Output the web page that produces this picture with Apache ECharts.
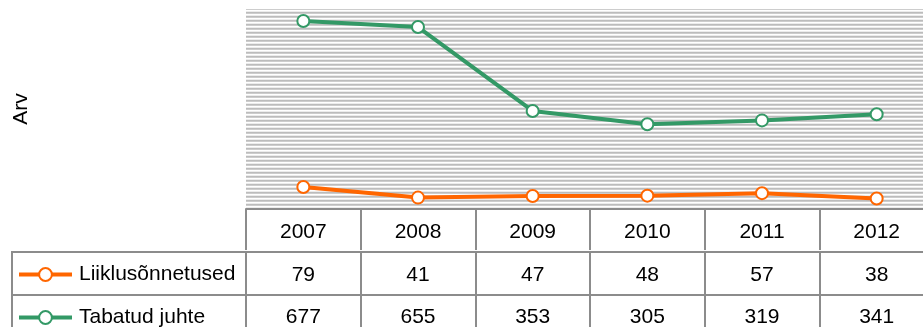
<!DOCTYPE html>
<html>
<head>
<meta charset="utf-8">
<script src="https://cdn.jsdelivr.net/npm/echarts@6/dist/echarts.min.js"></script>
<style>
  html, body { margin: 0; padding: 0; background: #fff; }
  #chart { width: 923px; height: 327px; }
</style>
</head>
<body>
<div id="chart"></div>
<script>
// Years shown along the table header
const years = ['2007', '2008', '2009', '2010', '2011', '2012'];
// Traffic accidents
const accidents = [79, 41, 47, 48, 57, 38];
// Drivers caught
const caught = [677, 655, 353, 305, 319, 341];

const seriesNames = ['Liiklusõnnetused', 'Tabatud juhte'];
const FONT = '"Liberation Sans", Arial, sans-serif';
const FONT_SIZE = 21;
const GRID_COLOR = '#8c8c8c';

// Striped fill for the plot background
function stripePattern() {
  const c = document.createElement('canvas');
  c.width = 4; c.height = 4;
  const ctx = c.getContext('2d');
  const rows = ['#bcbcbc', '#cdcdcd', '#ffffff', '#ececec'];
  rows.forEach((col, i) => { ctx.fillStyle = col; ctx.fillRect(0, i, 4, 1); });
  return { image: c, repeat: 'repeat' };
}

const chart = echarts.init(document.getElementById('chart'), null, { renderer: 'canvas' });

// One category axis per table row: header with years, then one row per series
function tableAxis(offset, tickLen, margin, formatter) {
  return {
    type: 'category',
    data: years,
    position: 'bottom',
    offset: offset,
    boundaryGap: true,
    axisLine: { show: true, lineStyle: { color: GRID_COLOR, width: 2 } },
    axisTick: { show: true, inside: false, alignWithLabel: false, length: tickLen,
                lineStyle: { color: GRID_COLOR, width: 2 } },
    axisLabel: { show: true, margin: margin, color: '#000', fontSize: FONT_SIZE, fontFamily: FONT,
                 interval: 0, hideOverlap: false, formatter: formatter },
    splitLine: { show: false }
  };
}

function legendRow(name, top) {
  return {
    orient: 'vertical',
    left: 17, top: top, padding: 0,
    itemWidth: 53, itemHeight: 16, itemGap: 0,
    lineStyle: { width: 4 },
    itemStyle: { borderWidth: 2.5 },
    textStyle: { color: '#000', fontSize: FONT_SIZE, fontFamily: FONT, padding: [0, 0, 0, 2] },
    data: [name]
  };
}

chart.setOption({
  animation: false,
  backgroundColor: '#fff',
  grid: {
    left: 246, top: 9, width: 688, height: 200,
    outerBoundsMode: 'none', containLabel: false,
    show: true, borderWidth: 0,
    backgroundColor: stripePattern()
  },
  legend: [
    legendRow(seriesNames[0], 264),
    legendRow(seriesNames[1], 307)
  ],
  xAxis: [
    tableAxis(1, 41, 12, (v) => v),
    tableAxis(43, 43, 13, (v, i) => String(accidents[i])),
    tableAxis(86, 45, 12, (v, i) => String(caught[i]))
  ],
  yAxis: {
    type: 'value', min: 0, max: 720,
    axisLine: { show: false }, axisTick: { show: false },
    axisLabel: { show: false }, splitLine: { show: false },
    name: 'Arv', nameLocation: 'middle', nameRotate: 90, nameGap: 214,
    nameTextStyle: { color: '#000', fontSize: FONT_SIZE, fontFamily: FONT }
  },
  series: [
    {
      name: seriesNames[0], type: 'line', data: accidents, xAxisIndex: 0,
      symbol: 'emptyCircle', symbolSize: 12,
      lineStyle: { color: '#ff6600', width: 4 },
      itemStyle: { color: '#ff6600', borderWidth: 2.5 }
    },
    {
      name: seriesNames[1], type: 'line', data: caught, xAxisIndex: 0,
      symbol: 'emptyCircle', symbolSize: 12,
      lineStyle: { color: '#339966', width: 4 },
      itemStyle: { color: '#339966', borderWidth: 2.5 }
    }
  ],
  // Frame around the legend cells to the left of the value rows
  graphic: [
    { type: 'line', shape: { x1: 12, y1: 252, x2: 247, y2: 252 },
      style: { stroke: GRID_COLOR, lineWidth: 2 } },
    { type: 'line', shape: { x1: 12, y1: 295, x2: 247, y2: 295 },
      style: { stroke: GRID_COLOR, lineWidth: 2 } },
    { type: 'line', shape: { x1: 12, y1: 251, x2: 12, y2: 340 },
      style: { stroke: GRID_COLOR, lineWidth: 2 } }
  ]
});
</script>
</body>
</html>
